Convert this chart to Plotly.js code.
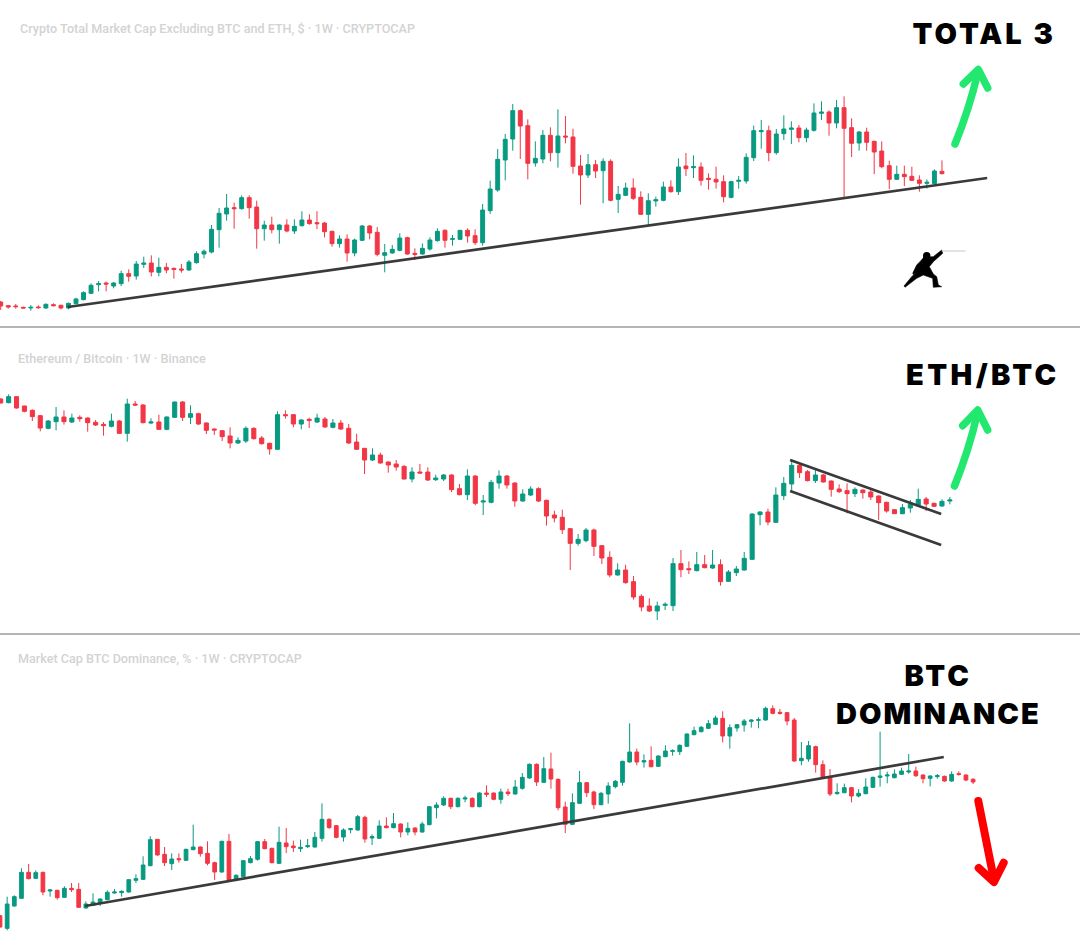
<!DOCTYPE html>
<html><head><meta charset="utf-8">
<script src="https://cdn.plot.ly/plotly-3.0.1.min.js"></script>
<style>
html,body{margin:0;padding:0;background:#fff}
#c{width:1080px;height:949px}
.shapelayer path{stroke-linecap:round;stroke-linejoin:round}
</style></head><body><div id="c"></div>
<script>
// TOTAL 3 (weekly candles, chart units)
const total3Open=[54,43,42,38,36,39,36,46,44,36,49,61,80,106,111,102,109,139,132,167,171,143,158,155,153,150,172,198,204,271,318,337,334,367,339,274,285,271,285,267,283,300,292,291,266,229,243,201,
239,282,263,194,201,209,247,200,198,213,238,269,242,242,269,253,232,328,390,480,543,628,583,471,483,554,502,552,549,462,435,466,448,476,362,374,396,368,317,357,359,399,385,462,457,459,425,422,
415,368,416,417,487,565,568,502,559,572,576,547,569,620,624,591,637,577,531,564,536,507,463,422,437,431,420,410,409,446];
const total3Close=[42,39,40,36,38,37,47,43,36,50,63,82,104,109,108,111,139,131,168,171,144,158,150,152,150,174,199,206,272,320,336,334,367,337,274,285,271,285,267,281,300,289,289,265,229,243,201,240,
282,261,197,202,212,246,198,197,215,240,266,239,244,269,252,232,330,393,482,542,628,582,470,485,554,502,552,549,461,435,466,447,476,359,377,396,365,317,358,361,399,385,459,454,460,419,422,414,
370,415,419,488,568,568,502,558,573,576,547,570,621,624,591,637,575,530,564,533,504,460,422,437,430,419,410,413,447,439];
const total3High=[57,45,48,40,45,44,50,50,46,52,67,86,110,117,115,114,148,152,177,190,194,187,171,157,168,180,206,212,285,336,378,352,374,374,358,298,310,287,302,302,326,317,326,294,268,254,257,244,
285,285,279,228,225,260,250,215,230,248,275,272,255,270,275,272,348,418,513,558,648,632,602,536,570,578,632,612,574,495,498,480,485,482,402,412,425,386,380,370,415,419,485,501,494,473,440,460,
434,418,432,500,583,600,583,573,614,596,585,577,650,656,629,660,671,605,567,577,538,536,478,463,463,460,434,422,452,479];
const total3Low=[30,34,34,34,28,34,34,41,32,32,47,59,78,86,86,95,102,115,121,156,131,131,140,124,142,148,169,185,200,217,298,274,331,304,214,238,260,229,263,258,280,286,273,248,220,217,175,191,
237,242,191,143,199,206,196,180,196,208,235,217,223,240,232,225,223,318,385,419,508,483,422,460,470,476,457,530,439,346,426,426,350,356,321,372,360,315,285,340,356,382,375,432,426,403,391,394,
353,365,394,409,477,514,476,496,540,528,533,533,565,600,553,575,363,489,508,508,438,455,393,420,402,417,385,394,407,437];

// ETH/BTC
const ethOpen=[693,682,700,672,659,643,605,625,639,624,638,636,623,617,611,627,590,678,675,621,624,602,638,684,638,649,621,603,598,582,561,567,605,576,560,542,646,646,618,632,624,633,608,621,605,564,
545,510,525,504,498,491,453,474,474,451,453,465,424,406,462,384,383,441,462,441,387,405,424,389,345,338,304,260,268,300,253,218,165,180,145,101,72,57,74,73,199,184,178,196,186,196,
146,172,180,212,346,354,323,403,438,494,475,448,465,447,423,418,409,420,414,402,383,361,349,366,375,393,380,372,387];
const ethClose=[681,700,666,656,640,606,627,639,625,636,634,622,615,613,627,590,678,675,622,624,602,639,684,638,649,618,599,600,580,561,569,605,574,559,543,646,643,618,630,629,636,609,621,603,561,542,
510,525,501,495,489,453,474,471,450,456,465,421,406,462,380,387,443,462,435,387,408,423,387,342,336,301,260,272,300,251,216,165,180,142,99,69,57,72,77,199,181,181,196,187,195,145,
174,183,215,348,354,324,405,440,494,472,448,465,444,422,415,409,422,412,399,382,357,349,367,377,392,378,371,386,390];
const ethHigh=[695,707,702,673,662,645,630,669,659,649,644,638,630,624,649,630,694,687,678,635,646,641,685,687,674,652,623,605,600,608,578,611,608,582,562,656,659,648,632,637,649,639,633,630,618,589,
546,545,532,506,510,494,488,498,488,466,468,467,438,482,464,405,450,479,465,443,422,431,428,391,358,361,305,288,306,304,254,236,200,196,162,107,95,85,83,216,240,206,234,225,240,212,
180,192,234,350,356,364,428,459,512,497,480,483,468,449,437,440,428,422,425,404,385,363,378,390,424,399,382,392,399];
const ethLow=[680,680,664,653,627,596,602,599,616,621,625,595,612,583,608,588,565,672,620,618,600,599,636,627,618,615,588,585,567,545,558,561,571,556,526,540,634,608,602,606,621,607,605,600,558,540,
468,507,499,472,478,452,443,470,447,447,447,414,404,390,374,345,380,424,424,370,385,402,384,313,323,288,180,253,263,222,198,158,163,139,91,56,54,30,60,57,158,168,176,185,183,133,
144,162,178,210,314,314,321,390,414,456,446,441,442,400,411,350,399,394,390,330,352,348,347,352,373,357,369,370,377];

// BTC dominance
const domOpen=[73,35,102,125,203,185,203,147,149,128,155,152,96,104,110,121,141,142,144,179,182,223,302,257,229,244,239,271,279,260,232,204,296,181,190,232,242,295,275,230,291,282,274,280,279,305,362,343,309,331,330,
368,306,305,342,337,348,324,336,324,346,397,405,425,400,423,425,400,441,441,422,444,438,455,486,527,473,513,482,399,347,410,472,444,406,438,460,473,534,564,534,539,521,550,566,565,581,616,625,635,647,
665,612,636,645,656,659,660,694,683,682,660,538,543,580,526,489,439,442,457,432,439,458,488,492,487,497,504,507,495,485,490,491,477,499,495,482];
const domClose=[39,108,130,203,184,202,144,150,127,155,151,98,108,114,123,143,144,146,181,184,225,301,255,232,243,241,272,279,259,230,204,296,180,194,238,244,295,274,232,293,280,277,278,283,308,362,337,308,330,334,370,
303,310,342,337,349,324,335,324,348,400,405,425,400,425,426,400,441,437,422,444,439,459,488,527,474,514,483,397,347,412,472,442,406,440,462,476,536,564,534,538,520,552,567,568,584,618,628,638,649,666,
612,637,646,657,660,661,695,680,680,657,537,545,583,526,488,438,443,457,432,440,459,488,492,495,498,507,507,493,484,492,493,477,497,497,480,474];
const domHigh=[75,130,134,215,228,209,205,153,151,161,171,171,116,140,125,149,153,149,182,197,251,311,303,279,260,260,274,346,281,296,235,298,318,197,240,252,297,303,277,340,336,298,301,303,324,410,365,345,335,336,375,
373,317,359,368,381,350,353,338,355,401,413,431,427,428,433,428,443,464,442,454,454,480,501,530,530,549,562,485,415,440,507,474,448,444,473,480,538,650,574,557,581,554,584,572,587,620,640,642,660,673,
686,647,648,663,662,668,700,704,693,684,666,594,597,583,539,513,470,469,459,453,485,490,625,505,512,517,558,520,497,494,498,493,506,506,497,486];
const domLow=[37,29,100,123,182,183,134,130,121,126,144,96,94,102,102,119,139,130,142,171,180,221,253,222,210,232,237,269,250,224,180,202,174,179,188,230,238,272,230,228,261,264,264,276,277,295,334,305,295,320,328,
292,285,303,335,335,308,314,314,322,344,365,402,393,398,413,398,398,429,419,409,432,436,451,484,462,471,454,389,321,345,408,429,393,404,409,455,463,532,524,517,518,519,548,553,555,579,614,623,633,645,
593,574,625,625,637,635,658,677,676,644,535,524,535,502,486,432,436,440,413,428,437,456,460,470,485,495,499,489,470,461,484,475,475,493,476,468];

const panelTitles=["Crypto Total Market Cap Excluding BTC and ETH, $ · 1W · CRYPTOCAP","Ethereum / Bitcoin · 1W · Binance","Market Cap BTC Dominance, % · 1W · CRYPTOCAP"];
const bigLabels=["TOTAL 3","ETH/BTC","BTC","DOMINANCE"];

// Trend lines: bar index and value at both ends
const total3TrendX=[8.9,131], total3TrendY=[39,426];
const ethUpperX=[99.8,118.9], ethUpperY=[510,348];
const ethLowerX=[99.8,118.9], ethLowerY=[417,255];
const domTrendX=[11.9,131.9], domTrendY=[102,549];

const W=1080,H=949;
const px=x=>x/W, py=y=>1-y/H;
const idx=a=>a.map((_,i)=>i);
const GREEN='#089981', RED='#f23645';
function candle(o,h,l,c,n){return {type:'candlestick',x:idx(o),open:o,high:h,low:l,close:c,xaxis:'x'+n,yaxis:'y'+n,
  increasing:{line:{color:GREEN,width:1},fillcolor:GREEN},decreasing:{line:{color:RED,width:1},fillcolor:RED},hoverinfo:'skip',showlegend:false};}
function trend(x,y,n){return {type:'scatter',mode:'lines',x,y,xaxis:'x'+n,yaxis:'y'+n,line:{color:'#3a3a3a',width:2.7},hoverinfo:'skip',showlegend:false};}

const traces=[
 candle(total3Open,total3High,total3Low,total3Close,''),
 trend(total3TrendX,total3TrendY,''),
 candle(ethOpen,ethHigh,ethLow,ethClose,2),
 trend(ethUpperX,ethUpperY,2),trend(ethLowerX,ethLowerY,2),
 candle(domOpen,domHigh,domLow,domClose,3),
 trend(domTrendX,domTrendY,3)
];

function pathOf(cmds){return cmds.map(c=>c[0]+c.slice(1).reduce((s,v,i)=>s+(i?(i%2?',':' '):'')+(i%2?py(v):px(v)),'')).join(' ');}
function stroke(cmds,color,w,extra){return Object.assign({type:'path',xref:'paper',yref:'paper',path:pathOf(cmds),line:{color,width:w},layer:'above'},extra||{});}
const ARROW='#22e86f';
const fencer=[[920,261.7],[924,257],[933.3,256.7],[941.7,250],[942.7,253.3],[933.3,261.7],[929.3,266.7],[933.3,274],[936.7,276.7],[938.3,285],[941.7,286.7],[933.3,287.3],[932.7,278.3],[923.3,275],[916.7,278.3],[905,287.3],[904,286],[911.7,276.7],[916.7,271.7],[914,275],[912.7,273.3],[916.7,265]];
const shapes=[
 {type:'line',xref:'paper',yref:'paper',x0:0,x1:1,y0:py(327),y1:py(327),line:{color:'#b4b4b4',width:2}},
 {type:'line',xref:'paper',yref:'paper',x0:0,x1:1,y0:py(634),y1:py(634),line:{color:'#b4b4b4',width:2}},
 stroke([['M',955,144],['Q',969,110,978,72]],ARROW,7.5),
 stroke([['M',963.3,84],['L',978.3,69.5],['L',987.7,88]],ARROW,7.5),
 stroke([['M',954.5,486],['Q',969,450,977.5,413]],ARROW,7.5),
 stroke([['M',962.7,425.7],['L',977.7,410],['L',987.7,430]],ARROW,7.5),
 stroke([['M',978.3,801],['L',994,880]],'#ff0000',8),
 stroke([['M',978.7,868],['L',994,882],['L',1003.7,862.7]],'#ff0000',8),
 {type:'path',xref:'paper',yref:'paper',layer:'above',fillcolor:'#000',line:{color:'#000',width:.6},
  path:pathOf(fencer.map((p,i)=>[i?'L':'M',p[0],p[1]]))+' Z'},
 {type:'circle',xref:'paper',yref:'paper',layer:'above',fillcolor:'#000',line:{width:0},x0:px(923),x1:px(930.4),y0:py(259.5),y1:py(252)},
 {type:'line',xref:'paper',yref:'paper',layer:'above',x0:px(942),x1:px(965),y0:py(251),y1:py(251),line:{color:'#c8c8c8',width:1}}
];

function small(t,x,y){return {text:t,xref:'paper',yref:'paper',x:px(x),y:py(y),xanchor:'left',yanchor:'middle',showarrow:false,font:{family:'Roboto',size:12.6,color:'#d3d3d3',weight:500}};}
function big(t,x,y){return {text:t,xref:'paper',yref:'paper',x:px(x),y:py(y),xanchor:'center',yanchor:'middle',showarrow:false,font:{family:'Inter',size:29,color:'#000',weight:900}};}
const hidden={visible:false,fixedrange:true,showgrid:false,zeroline:false};
const layout={width:W,height:H,margin:{l:0,r:0,t:0,b:0},paper_bgcolor:'#fff',plot_bgcolor:'rgba(0,0,0,0)',showlegend:false,boxgap:.26,
 xaxis:Object.assign({range:[-0.093,143.33],rangeslider:{visible:false},anchor:'y'},hidden),
 xaxis2:Object.assign({range:[-0.088,136.45],rangeslider:{visible:false},anchor:'y2'},hidden),
 xaxis3:Object.assign({range:[0,150.94],rangeslider:{visible:false},anchor:'y3'},hidden),
 yaxis:Object.assign({range:[0,960],domain:[py(320),1],anchor:'x'},hidden),
 yaxis2:Object.assign({range:[0,900],domain:[py(630),py(330)],anchor:'x2'},hidden),
 yaxis3:Object.assign({range:[0,900],domain:[py(940),py(640)],anchor:'x3'},hidden),
 shapes,
 annotations:[small(panelTitles[0],18,29),small(panelTitles[1],16,358),small(panelTitles[2],16,658),
  big(bigLabels[0],984,33),big(bigLabels[1],983,374),big(bigLabels[2],938,675),big(bigLabels[3],938,713)]
};
const spacing={"TOTAL 3":'3px',"ETH/BTC":'3.4px',"BTC":'3px',"DOMINANCE":'2px'};
Plotly.newPlot('c',traces,layout,{staticPlot:true,displayModeBar:false}).then(()=>{
 document.querySelectorAll('.annotation-text').forEach(e=>{const s=spacing[e.textContent]; if(s) e.style.letterSpacing=s;});
});
</script></body></html>
